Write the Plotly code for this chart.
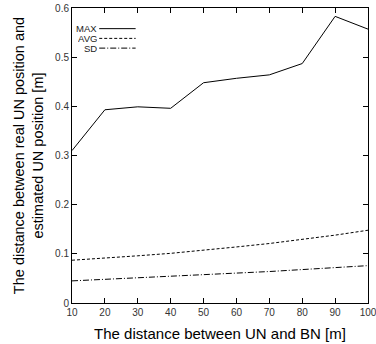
import plotly.graph_objects as go

distance = [10, 20, 30, 40, 50, 60, 70, 80, 90, 100]
max_err = [0.310, 0.393, 0.399, 0.396, 0.448, 0.457, 0.464, 0.487, 0.583, 0.557]
avg_err = [0.087, 0.091, 0.096, 0.101, 0.107, 0.114, 0.121, 0.129, 0.138, 0.148]
sd_err = [0.045, 0.048, 0.051, 0.054, 0.057, 0.060, 0.064, 0.068, 0.072, 0.076]

series = [("MAX", max_err, "solid"), ("AVG", avg_err, "3px,2px"), ("SD", sd_err, "6px,2px,1px,2px")]

fig = go.Figure()
for name, vals, dash in series:
    fig.add_trace(go.Scatter(x=distance, y=vals, mode="lines", name=name,
                             line=dict(color="black", width=1, dash=dash), showlegend=False))

# gnuplot-style legend (text right-aligned, sample to the right)
for i, (name, vals, dash) in enumerate(series):
    yp = 0.93 - i * 0.033
    fig.add_annotation(xref="paper", yref="paper", x=0.088, y=yp, text=name, showarrow=False,
                       xanchor="right", yanchor="middle", borderpad=0, height=9,
                       font=dict(size=9.5, color="#222"))
    fig.add_shape(type="line", xref="paper", yref="paper", x0=0.092, x1=0.215, y0=yp, y1=yp,
                  line=dict(color="black", width=1, dash=dash))

axis_common = dict(showline=True, linecolor="black", linewidth=1, mirror="ticks", ticks="inside",
                   ticklen=5, tickcolor="black", showgrid=False, zeroline=False, automargin=False,
                   ticklabeloverflow="allow", tickfont=dict(size=10, color="#333"))
fig.update_xaxes(range=[10, 100], tickvals=distance, **axis_common,
                 title=dict(text="The distance between UN and BN [m]", font=dict(size=15, color="black"), standoff=11))
fig.update_yaxes(range=[0, 0.6], tickvals=[0, 0.1, 0.2, 0.3, 0.4, 0.5, 0.6],
                 ticktext=["0", "0.1", "0.2", "0.3", "0.4", "0.5", "0.6"], **axis_common,
                 title=dict(text="The distance between real UN position and<br>estimated UN position [m]",
                            font=dict(size=14.5, color="black"), standoff=8))
fig.update_layout(width=376, height=344, margin=dict(l=72, r=8, t=8, b=41),
                  plot_bgcolor="white", paper_bgcolor="white",
                  font=dict(family="Liberation Sans, Arial, sans-serif"))
fig.write_html("out.html", config={"displayModeBar": False})

# remove the default page margin so the figure sits at the window's top-left corner
with open("out.html", encoding="utf-8") as f:
    html = f.read()
html = html.replace("<head>", "<head><style>html,body{margin:0;padding:0;overflow:hidden;}</style>", 1)
with open("out.html", "w", encoding="utf-8") as f:
    f.write(html)
